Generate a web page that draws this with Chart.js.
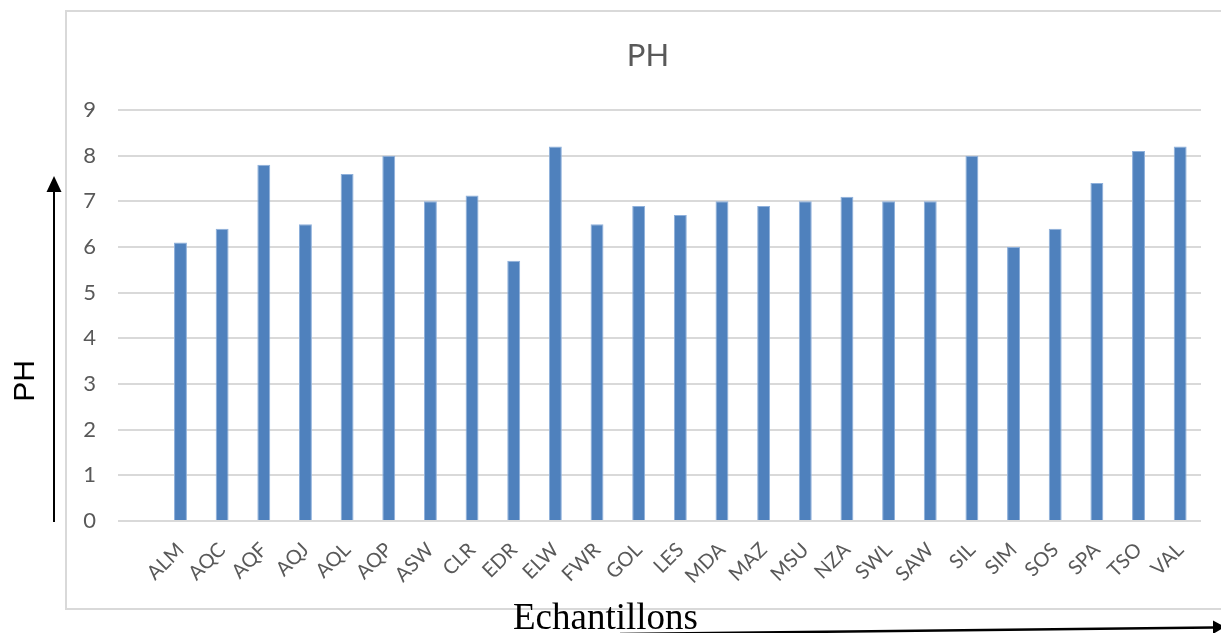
<!DOCTYPE html>
<html>
<head>
<meta charset="utf-8">
<script src="https://cdn.jsdelivr.net/npm/chart.js@4/dist/chart.umd.min.js"></script>
<style>
  html, body { margin: 0; padding: 0; background: #ffffff; }
  #wrap { position: relative; width: 1221px; height: 633px; overflow: hidden; }
  canvas { display: block; }
</style>
</head>
<body>
<div id="wrap"><canvas id="c" width="1221" height="633"></canvas></div>
<script>
// ---- data ----
const categories = ['ALM','AQC','AQF','AQJ','AQL','AQP','ASW','CLR','EDR','ELW','FWR','GOL','LES','MDA','MAZ','MSU','NZA','SWL','SAW','SIL','SIM','SOS','SPA','TSO','VAL'];
const phValues   = [6.1, 6.4, 7.8, 6.5, 7.6, 8.0, 7.0, 7.13, 5.7, 8.2, 6.5, 6.9, 6.7, 7.0, 6.9, 7.0, 7.1, 7.0, 7.0, 8.0, 6.0, 6.4, 7.4, 8.1, 8.2];
const yTicks     = [0, 1, 2, 3, 4, 5, 6, 7, 8, 9];
const chartTitle = 'PH';
const yAxisLabel = 'PH';
const xAxisLabel = 'Echantillons';

// the original chart keeps an empty first category slot
const labels = [''].concat(categories);
const data = [null].concat(phValues);

const decor = {
  id: 'decor',
  beforeDraw(chart) {
    const ctx = chart.ctx;
    ctx.save();
    ctx.strokeStyle = '#d9d9d9';
    ctx.lineWidth = 2;
    ctx.strokeRect(66, 11, 1240, 598);
    ctx.restore();
  },
  afterDraw(chart) {
    const ctx = chart.ctx;
    const area = chart.chartArea;
    ctx.save();
    // title
    ctx.fillStyle = '#595959';
    ctx.font = '31px Lato';
    ctx.textAlign = 'center';
    ctx.textBaseline = 'middle';
    ctx.fillText(chartTitle, 648, 56);

    // vertical arrow
    ctx.strokeStyle = '#000';
    ctx.fillStyle = '#000';
    ctx.lineWidth = 2;
    ctx.beginPath();
    ctx.moveTo(54, area.bottom + 1);
    ctx.lineTo(54, 188);
    ctx.stroke();
    ctx.beginPath();
    ctx.moveTo(54, 176);
    ctx.lineTo(46.5, 192);
    ctx.lineTo(61.5, 192);
    ctx.closePath();
    ctx.fill();

    // y label
    ctx.save();
    ctx.translate(25, 381);
    ctx.rotate(-Math.PI / 2);
    ctx.font = '30px "Liberation Sans"';
    ctx.textAlign = 'center';
    ctx.textBaseline = 'middle';
    ctx.fillStyle = '#000';
    ctx.fillText(yAxisLabel, 0, 1);
    ctx.restore();

    // x label
    ctx.font = '37px "Liberation Serif"';
    ctx.textAlign = 'left';
    ctx.textBaseline = 'alphabetic';
    ctx.fillStyle = '#000';
    ctx.fillText(xAxisLabel, 513, 629);

    // horizontal arrow
    ctx.lineWidth = 2.5;
    ctx.beginPath();
    ctx.moveTo(620, 634);
    ctx.lineTo(1214, 627.5);
    ctx.stroke();
    ctx.beginPath();
    ctx.moveTo(1225, 627);
    ctx.lineTo(1213, 620.5);
    ctx.lineTo(1213, 634);
    ctx.closePath();
    ctx.fill();
    ctx.restore();
  }
};

new Chart(document.getElementById('c'), {
  type: 'bar',
  data: {
    labels: labels,
    datasets: [{
      label: chartTitle,
      data: data,
      backgroundColor: '#4f81bd',
      borderColor: '#8eb0db',
      borderWidth: 1,
      barPercentage: 0.31,
      categoryPercentage: 1.0
    }]
  },
  options: {
    responsive: false,
    devicePixelRatio: 1,
    animation: false,
    layout: { padding: { left: 68, right: 20, top: 110, bottom: 0 } },
    plugins: {
      legend: { display: false },
      title: { display: false },
      tooltip: { enabled: false }
    },
    scales: {
      x: {
        grid: { display: false, drawTicks: false },
        border: { display: false },
        ticks: {
          autoSkip: false,
          maxRotation: 45,
          minRotation: 45,
          padding: 17,
          color: '#595959',
          font: { family: 'Lato', size: 20 }
        },
        afterFit(scale) { scale.height = 112; }
      },
      y: {
        min: yTicks[0],
        max: yTicks[yTicks.length - 1],
        ticks: {
          stepSize: yTicks[1] - yTicks[0],
          padding: 22,
          color: '#595959',
          font: { family: 'Lato', size: 22 }
        },
        grid: { color: '#d9d9d9', lineWidth: 2, drawTicks: false },
        border: { display: false },
        afterFit(scale) { scale.width = 118 - 68; }
      }
    }
  },
  plugins: [decor]
});
</script>
</body>
</html>
